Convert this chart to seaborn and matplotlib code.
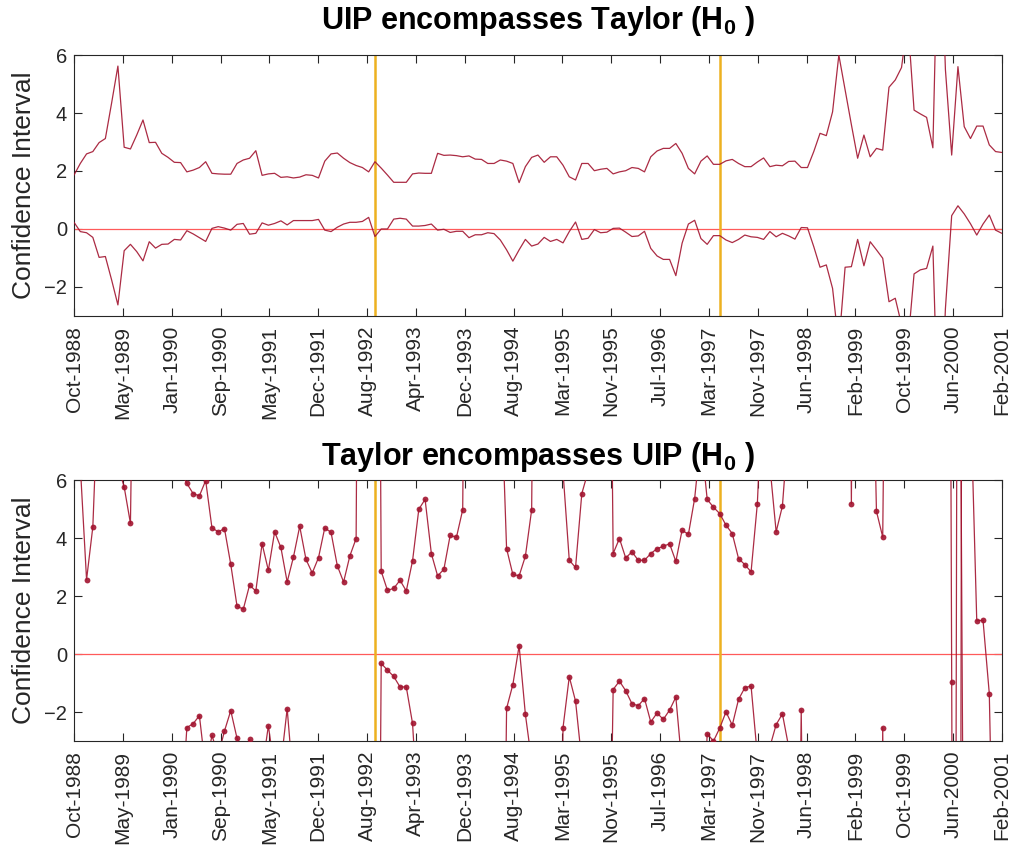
import numpy as np
import pandas as pd
import matplotlib
matplotlib.use("Agg")
import matplotlib.pyplot as plt
import seaborn as sns

# Monthly sample Oct-1988 .. Feb-2001 (149 observations), indexed 0..148
n_months = 149
tick_labels = ["Oct-1988", "May-1989", "Jan-1990", "Sep-1990", "May-1991", "Dec-1991",
               "Aug-1992", "Apr-1993", "Dec-1993", "Aug-1994", "Mar-1995", "Nov-1995",
               "Jul-1996", "Mar-1997", "Nov-1997", "Jun-1998", "Feb-1999", "Oct-1999",
               "Jun-2000", "Feb-2001"]
break_months = [48, 103]

# UIP encompasses Taylor: upper / lower confidence bounds
uip_upper = [1.86, 2.26, 2.59, 2.67, 2.98, 3.12, 4.35, 5.62, 2.82, 2.76,
             3.24, 3.76, 2.98, 2.99, 2.61, 2.47, 2.30, 2.29, 1.97, 2.03,
             2.12, 2.32, 1.92, 1.90, 1.89, 1.89, 2.26, 2.38, 2.44, 2.70,
             1.85, 1.90, 1.92, 1.78, 1.80, 1.76, 1.79, 1.87, 1.85, 1.76,
             2.34, 2.59, 2.62, 2.44, 2.29, 2.19, 2.12, 1.97, 2.32, 2.10,
             1.86, 1.61, 1.61, 1.61, 1.90, 1.93, 1.92, 1.92, 2.61, 2.54,
             2.55, 2.53, 2.49, 2.52, 2.41, 2.40, 2.26, 2.26, 2.38, 2.34,
             2.26, 1.60, 2.15, 2.47, 2.55, 2.30, 2.49, 2.49, 2.20, 1.80,
             1.69, 2.26, 2.26, 2.01, 2.06, 2.09, 1.90, 1.97, 2.01, 2.12,
             2.09, 1.97, 2.49, 2.69, 2.78, 2.78, 2.95, 2.61, 2.09, 1.90,
             2.34, 2.52, 2.23, 2.23, 2.35, 2.40, 2.26, 2.15, 2.15, 2.31,
             2.45, 2.15, 2.20, 2.18, 2.33, 2.34, 2.12, 2.12, 2.67, 3.30,
             3.22, 4.04, 6.00, 4.80, 3.60, 2.44, 3.24, 2.49, 2.78, 2.72,
             4.89, 5.14, 5.57, 7.20, 4.10, 3.97, 3.85, 2.80, 12.0, 5.50,
             2.55, 5.60, 3.53, 3.12, 3.55, 3.55, 2.90, 2.67, 2.64]
uip_lower = [0.23, -0.09, -0.13, -0.29, -0.98, -0.95, -1.76, -2.62, -0.75, -0.53,
             -0.78, -1.10, -0.44, -0.66, -0.53, -0.52, -0.36, -0.38, -0.06, -0.17,
             -0.30, -0.43, 0.02, 0.08, 0.03, -0.04, 0.16, 0.19, -0.18, -0.15,
             0.21, 0.13, 0.19, 0.28, 0.14, 0.29, 0.29, 0.29, 0.29, 0.33,
             -0.04, -0.09, 0.06, 0.17, 0.23, 0.23, 0.26, 0.40, -0.26, 0.00,
             0.00, 0.34, 0.37, 0.34, 0.10, 0.10, 0.12, 0.17, -0.04, -0.01,
             -0.12, -0.08, -0.08, -0.30, -0.20, -0.20, -0.13, -0.16, -0.38, -0.72,
             -1.11, -0.72, -0.36, -0.59, -0.52, -0.29, -0.43, -0.36, -0.48, -0.09,
             0.24, -0.36, -0.32, -0.02, -0.13, -0.11, 0.02, 0.03, -0.11, -0.26,
             -0.24, -0.08, -0.67, -0.93, -1.05, -1.05, -1.61, -0.49, 0.17, 0.30,
             -0.33, -0.53, -0.23, -0.23, -0.38, -0.47, -0.36, -0.21, -0.27, -0.29,
             -0.36, -0.09, -0.27, -0.15, -0.24, -0.35, 0.05, 0.04, -0.61, -1.32,
             -1.24, -2.05, -4.00, -1.32, -1.30, -0.36, -1.27, -0.44, -0.72, -1.01,
             -2.51, -2.39, -3.30, -4.00, -1.55, -1.41, -1.36, -0.59, -8.00, -2.75,
             0.46, 0.80, 0.52, 0.18, -0.21, 0.17, 0.48, -0.04, -0.15]

# Taylor encompasses UIP: upper / lower confidence bounds
taylor_upper = [9.0, 6.5, 2.57, 4.39, 10.0, 12.0, 12.0, 6.5, 5.77, 4.51,
                20.0, 15.0, 15.0, 15.0, 15.0, 15.0, 15.0, 6.3, 5.89, 5.54,
                5.46, 5.99, 4.36, 4.22, 4.33, 3.10, 1.66, 1.55, 2.38, 2.18,
                3.81, 2.89, 4.22, 3.68, 2.49, 3.35, 4.41, 3.27, 2.80, 3.33,
                4.36, 4.20, 3.05, 2.49, 3.39, 3.99, 40.0, 30.0, 40.0, 2.86,
                2.20, 2.27, 2.55, 2.18, 3.22, 5.00, 5.34, 3.47, 2.70, 2.93,
                4.10, 4.03, 4.98, 30.0, 20.0, 20.0, 20.0, 20.0, 10.0, 3.64,
                2.75, 2.70, 3.38, 4.98, 30.0, 20.0, 20.0, 20.0, 6.3, 3.24,
                2.99, 5.54, 6.3, 20.0, 20.0, 25.0, 3.47, 3.99, 3.32, 3.53,
                3.24, 3.24, 3.47, 3.64, 3.72, 3.81, 3.20, 4.28, 4.13, 5.37,
                7.5, 5.34, 5.07, 4.85, 4.45, 4.16, 3.30, 3.09, 2.84, 5.19,
                10.0, 6.5, 4.22, 5.11, 8.0, 15.0, 15.0, 15.0, 15.0, 15.0,
                15.0, 15.0, 15.0, 40.0, 5.19, 40.0, 15.0, 15.0, 4.93, 4.04,
                25.0, 15.0, 15.0, 15.0, 15.0, 15.0, 15.0, 15.0, 15.0, 60.0,
                -0.95, -60.0, 60.0, 9.0, 1.15, 1.17, -1.36, -12.0, -15.0]
taylor_lower = [-6.0, -6.0, -6.0, -6.0, -6.0, -6.0, -6.0, -6.0, -6.0, -6.0,
                -6.0, -6.0, -6.0, -6.0, -6.0, -6.0, -6.0, -6.0, -2.53, -2.40,
                -2.12, -4.0, -2.80, -3.5, -2.65, -1.95, -2.90, -3.4, -2.94, -4.0,
                -4.0, -2.47, -4.0, -3.8, -1.88, -4.5, -6.0, -6.0, -6.0, -6.0,
                -6.0, -6.0, -6.0, -6.0, -6.0, -6.0, -6.0, -6.0, -30.0, -0.32,
                -0.55, -0.77, -1.13, -1.13, -2.39, -6.0, -6.0, -6.0, -6.0, -6.0,
                -6.0, -6.0, -6.0, -6.0, -6.0, -6.0, -6.0, -6.0, -20.0, -1.87,
                -1.05, 0.29, -2.08, -3.7, -6.0, -6.0, -6.0, -20.0, -2.54, -0.78,
                -1.62, -3.7, -6.0, -6.0, -6.0, -15.0, -1.22, -0.93, -1.26, -1.71,
                -1.78, -1.53, -2.34, -2.03, -2.25, -1.93, -1.48, -3.9, -6.0, -6.0,
                -8.0, -2.74, -3.0, -2.55, -1.99, -2.45, -1.56, -1.16, -1.10, -3.5,
                -6.0, -3.2, -2.43, -2.06, -3.2, -20.0, -1.93, -20.0, -8.0, -8.0,
                -8.0, -8.0, -8.0, -8.0, -8.0, -8.0, -8.0, -8.0, -30.0, -2.53,
                -30.0, -8.0, -8.0, -8.0, -8.0, -8.0, -8.0, -8.0, -8.0, -8.0,
                -70.0, 25.0, -13.0, -8.0, -8.0, -8.0, -8.0, -8.0, -8.0]

panels = [
    ("UIP encompasses Taylor (H$_{\\mathbf{0}}$ )", uip_upper, uip_lower, False),
    ("Taylor encompasses UIP (H$_{\\mathbf{0}}$ )", taylor_upper, taylor_lower, True),
]

sns.set_theme(style="white")
plt.rcParams["font.family"] = ["Liberation Sans", "DejaVu Sans"]
plt.rcParams["mathtext.fontset"] = "custom"
plt.rcParams["mathtext.rm"] = "Liberation Sans"
plt.rcParams["mathtext.bf"] = "Liberation Sans:bold"

line_color = "#A2142F"
zero_color = "#FF5A5A"
break_color = "#EDB120"
frame_color = "#262626"

months = np.arange(n_months)
tick_pos = np.linspace(0, n_months - 1, len(tick_labels))

fig = plt.figure(figsize=(10.14, 8.47), dpi=100)
axes = [fig.add_axes([0.073, 0.627, 0.915, 0.308]),
        fig.add_axes([0.073, 0.125, 0.915, 0.308])]
title_y = [0.9655, 0.4515]

for ax, (title, upper, lower, with_markers), ty in zip(axes, panels, title_y):
    df = pd.DataFrame({"month": np.concatenate([months, months]),
                       "value": np.concatenate([upper, lower]),
                       "bound": ["upper"] * n_months + ["lower"] * n_months})
    ax.axhline(0, color=zero_color, lw=0.9, zorder=1)
    for m in break_months:
        ax.axvline(m, color=break_color, lw=1.8, zorder=1)
    for bound in ["upper", "lower"]:
        sub = df[df["bound"] == bound]
        sns.lineplot(data=sub, x="month", y="value", ax=ax, color=line_color,
                     lw=0.9, alpha=0.9, estimator=None, sort=False,
                     marker="o" if with_markers else None,
                     markersize=4.2, markeredgewidth=0, zorder=3)
    ax.set_xlim(0, n_months - 1)
    ax.set_ylim(-3, 6)
    ax.set_yticks([-2, 0, 2, 4, 6])
    ax.set_xticks(tick_pos)
    ax.set_xticklabels(tick_labels, rotation=90, fontsize=15, color="#262626")
    ax.tick_params(axis="y", labelsize=14.5, labelcolor="#262626", pad=5)
    ax.tick_params(axis="x", pad=7)
    ax.tick_params(direction="in", length=5.5, width=0.8, color=frame_color,
                   top=True, right=True, bottom=True, left=True)
    ax.set_xlabel("")
    ax.set_ylabel("Confidence Interval", fontsize=19, color="#262626", labelpad=6)
    for sp in ax.spines.values():
        sp.set_color(frame_color)
        sp.set_linewidth(0.8)
    fig.text(0.5306, ty, title, ha="center", va="baseline", fontsize=22,
             fontweight="bold", color="black")

fig.savefig("out.png", dpi=100)
